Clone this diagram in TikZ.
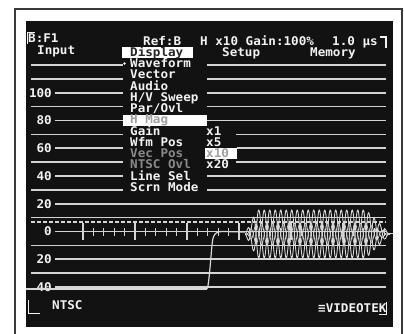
\documentclass[tikz,border=0pt]{standalone}
\usepackage{fontspec}
\newfontfamily\scr{DejaVu Sans Mono Bold}[FakeStretch=1.05]
\definecolor{scrbg}{HTML}{121212}
\definecolor{txt}{HTML}{F2F2F2}
\definecolor{grat}{HTML}{D4D4D4}
\definecolor{dimtxt}{HTML}{8A8A8A}
\definecolor{boxtxt}{HTML}{A0A0A0}
\definecolor{framecol}{HTML}{3A3A3A}
\definecolor{wavecol}{HTML}{D8D8D8}
\begin{document}
\begin{tikzpicture}[x=1pt,y=-1pt,
  lbl/.style={font=\scr\fontsize{12}{12}\selectfont, text=txt, inner sep=0pt, anchor=base west},
  num/.style={lbl, anchor=base east},
  gridline/.style={draw=grat, line width=1.6pt},
  tickline/.style={draw=grat, line width=1.3pt},
  wave/.style={draw=wavecol, line width=0.9pt},
  hlbox/.style={fill=white, draw=none},
  declare function={env(\x)=24*min(1,(\x-245)/12,(390-\x)/24); ph(\x)=32.7273*(\x-245);}]
\useasboundingbox (0,0) rectangle (404,333);
\fill[white] (0,0) rectangle (404,333);
% outer frame
\draw[framecol, line width=2pt] (14.5,340) -- (14.5,8.5) -- (402,8.5) -- (402,340);
% screen
\fill[scrbg] (26,21) rectangle (393,327);

% graticule rows with menu gap
\draw[gridline] (31,65) -- (123,65);   \draw[gridline] (207,65) -- (386,65);
\draw[gridline] (31,78.9) -- (123,78.9); \draw[gridline] (207,78.9) -- (386,78.9);
\draw[gridline] (55,92.75) -- (123,92.75); \draw[gridline] (207,92.75) -- (386,92.75);
\draw[gridline] (31,106.6) -- (123,106.6); \draw[gridline] (207,106.6) -- (386,106.6);
\draw[gridline] (55,120.5) -- (386,120.5);
\draw[gridline] (31,134.4) -- (123,134.4); \draw[gridline] (236,134.4) -- (386,134.4);
\draw[gridline] (55,148.25) -- (123,148.25); \draw[gridline] (237,148.25) -- (386,148.25);
\draw[gridline] (31,162.1) -- (123,162.1); \draw[gridline] (236,162.1) -- (386,162.1);
\draw[gridline] (55,176) -- (123,176); \draw[gridline] (207,176) -- (386,176);
\draw[gridline] (31,189.9) -- (123,189.9); \draw[gridline] (207,189.9) -- (386,189.9);
\draw[gridline] (55,203.75) -- (386,203.75);
\draw[gridline] (31,217.6) -- (386,217.6);
\draw[gridline, dash pattern=on 4pt off 2pt] (31,221.8) -- (386,221.8);
\draw[gridline] (55,231.5) -- (386,231.5);
\draw[gridline] (31,245.4) -- (386,245.4);
\draw[gridline] (55,259.25) -- (386,259.25);
\draw[gridline] (31,273.1) -- (386,273.1);
\draw[gridline] (55,287) -- (386,287);

% ticks on 0 line
\foreach \k in {0,...,29} \draw[tickline] ({83+10.4*\k},227.5) -- ({83+10.4*\k},235.5);
\foreach \k in {0,5,...,25} \draw[tickline] ({83+10.4*\k},223) -- ({83+10.4*\k},240);

% scale labels
\node[num] (n100) at (52,97.1) {100};
\node[num] (n80) at (52,124.8) {80};
\node[num] (n60) at (52,152.6) {60};
\node[num] (n40) at (52,180.3) {40};
\node[num] (n20) at (52,208.1) {20};
\node[num] (n0) at (52,235.8) {0};
\node[num] (m20) at (52,263.6) {20};
\node[num] (m40) at (52,291.3) {40};

% waveform: sync tip, edge, blanking, modulated burst
\draw[wave, line width=2.4pt] (26,289) -- (207,289);
\draw[wave, line width=1.2pt] (207,289) .. controls (209,287) and (211,252) .. (212.5,241)
  .. controls (213.5,234) and (216,231.5) .. (222,231.5) -- (245,232);
\draw[wave] plot[domain=245:390,samples=600] (\x,{234-env(\x)*sin(ph(\x))});
\draw[wave] plot[domain=245:390,samples=600] (\x,{234+env(\x)*sin(ph(\x))});
\draw[wave, line width=0.7pt] plot[domain=245:390,samples=600] (\x,{234-0.45*env(\x)*cos(ph(\x))});
\draw[wave, line width=0.7pt] plot[domain=245:390,samples=600] (\x,{234+0.45*env(\x)*cos(ph(\x))});
\draw[wave] (388,233) -- (393,233);

% header
\draw[txt, line width=1.2pt] (27.5,44) -- (27.5,32.5) -- (35,32.5);
\node[lbl] (bf1) at (28,42.5) {B:F1};
\node[lbl] (input) at (37,54.5) {Input};
\node[lbl] (ref) at (143,45.8) {Ref:B};
\node[lbl] (hmagstat) at (200,45.8) {H x10 Gain:100\%};
\node[lbl] (time) at (332,45.8) {1.0 µs};
\draw[txt, line width=1.2pt] (380,37) -- (386,37) -- (386,47.5);
\node[lbl] (setup) at (222,56.5) {Setup};
\node[lbl] (memory) at (310,56.5) {Memory};

% menu
\fill[hlbox] (122,46.5) rectangle (193,57.5);
\node[lbl, text=black!85] (display) at (130,56.5) {Display};
\fill[txt] (124.5,63.5) circle (1.4pt);
\node[lbl] (waveform) at (130,67.5) {Waveform};
\node[lbl] (vector) at (130,78.8) {Vector};
\node[lbl] (audio) at (130,90) {Audio};
\node[lbl] (hvsweep) at (130,101.3) {H/V Sweep};
\node[lbl] (parovl) at (130,112.6) {Par/Ovl};
\fill[hlbox] (123,114.5) rectangle (207,125.5);
\node[lbl, text=boxtxt] (hmag) at (130,123.9) {H Mag};
\node[lbl] (gain) at (130,135.1) {Gain};
\node[lbl] (wfmpos) at (130,146.4) {Wfm Pos};
\node[lbl, text=dimtxt] (vecpos) at (130,157.7) {Vec Pos};
\node[lbl, text=dimtxt] (ntscovl) at (130,168.9) {NTSC Ovl};
\node[lbl] (linesel) at (130,180.2) {Line Sel};
\node[lbl] (scrnmode) at (130,191.5) {Scrn Mode};

% submenu
\node[lbl] (x1) at (206,135.1) {x1};
\node[lbl] (x5) at (206,146.4) {x5};
\fill[hlbox] (205,148) rectangle (237,158.5);
\node[lbl, text=boxtxt] (x10) at (206,157.7) {x10};
\node[lbl] (x20) at (206,168.9) {x20};

% footer
\draw[txt, line width=1.2pt] (28.5,300) -- (28.5,313.5) -- (40,313.5);
\node[lbl] (ntsc) at (52,309.5) {NTSC};
\node[lbl] (videotek) at (318,312.5) {≡VIDEOTEK};
\draw[txt, line width=1.2pt] (379,314.5) -- (386.5,314.5) -- (386.5,302);
\end{tikzpicture}
\end{document}
